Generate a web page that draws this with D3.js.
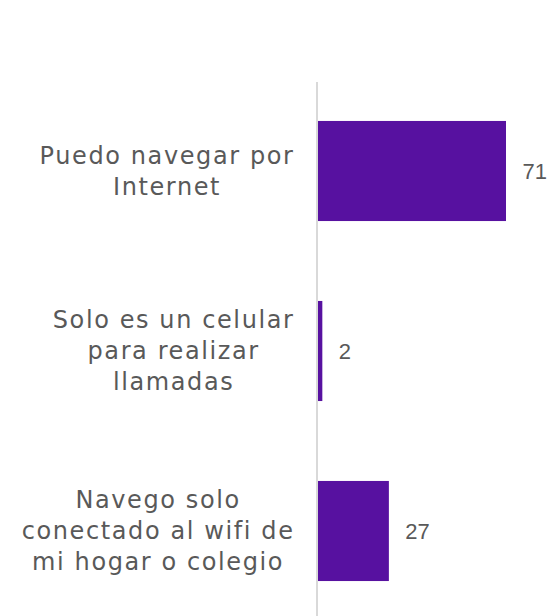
<!DOCTYPE html>
<html><head><meta charset="utf-8">
<script src="https://cdn.jsdelivr.net/npm/d3@7"></script>
<style>body{margin:0;background:#fff}svg{display:block}</style>
</head><body>
<script>
const categories = [
  ["Puedo navegar por", "Internet"],
  ["Solo es un celular", "para realizar", "llamadas"],
  ["Navego solo", "conectado al wifi de", "mi hogar o colegio"]
];
const values = [71, 2, 27];

const W = 547, H = 616;
const x0 = 317;
const svg = d3.select("body").append("svg").attr("width", W).attr("height", H);
const x = d3.scaleLinear().domain([0, 71]).range([x0, 506]);
const y = d3.scaleBand().domain(d3.range(values.length)).range([81, 621]).paddingInner(0.444).paddingOuter(0.222);
const font = "'DejaVu Sans', sans-serif";
const fs = 24;

svg.selectAll("rect.bar").data(values).join("rect")
  .attr("x", x0).attr("y", (d, i) => y(i))
  .attr("width", d => x(d) - x0).attr("height", y.bandwidth())
  .attr("fill", "#5711A0");

svg.append("line").attr("x1", x0).attr("x2", x0).attr("y1", 82).attr("y2", H)
  .attr("stroke", "#d9d9d9").attr("stroke-width", 2);

svg.selectAll("text.val").data(values).join("text")
  .attr("x", d => x(d) + 16.5).attr("y", (d, i) => y(i) + y.bandwidth() / 2)
  .attr("dy", "0.35em").attr("font-family", "'Liberation Sans', sans-serif").attr("font-size", 22)
  .attr("fill", "#595959").text(d => d);

const lh = 31;
categories.forEach((lines, i) => {
  const cy = y(i) + y.bandwidth() / 2;
  const g = svg.append("g");
  const ts = lines.map((l, j) => g.append("text")
    .attr("y", cy + (j - (lines.length - 1) / 2) * lh)
    .attr("dy", "0.35em").attr("font-family", font).attr("font-size", fs)
    .attr("letter-spacing", "1.6px")
    .attr("fill", "#595959").attr("text-anchor", "middle").text(l));
  const maxW = d3.max(ts, t => t.node().getComputedTextLength());
  ts.forEach(t => t.attr("x", 294.5 - maxW / 2));
});
</script>
</body></html>
